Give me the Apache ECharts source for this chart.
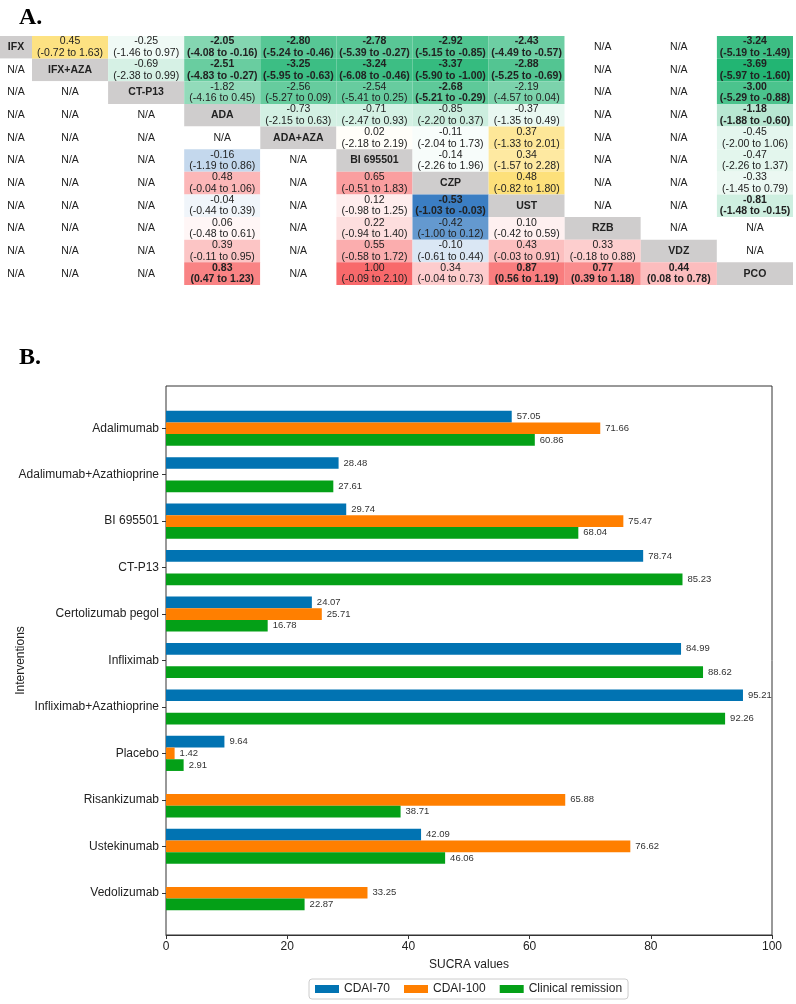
<!DOCTYPE html>
<html><head><meta charset="utf-8">
<script src="https://cdn.jsdelivr.net/npm/echarts/dist/echarts.min.js"></script>
<style>html,body{margin:0;padding:0;background:#fff}#c{width:796px;height:1004px}</style>
</head><body><div id="c"></div><script>
// ---------- Part A: league table ----------
const treatments = ['IFX','IFX+AZA','CT-P13','ADA','ADA+AZA','BI 695501','CZP','UST','RZB','VDZ','PCO'];
const N = null;
const leagueEst = [
  [N, 0.45,-0.25,-2.05,-2.80,-2.78,-2.92,-2.43,N,N,-3.24],
  [N,N,-0.69,-2.51,-3.25,-3.24,-3.37,-2.88,N,N,-3.69],
  [N,N,N,-1.82,-2.56,-2.54,-2.68,-2.19,N,N,-3.00],
  [N,N,N,N,-0.73,-0.71,-0.85,-0.37,N,N,-1.18],
  [N,N,N,N,N,0.02,-0.11,0.37,N,N,-0.45],
  [N,N,N,-0.16,N,N,-0.14,0.34,N,N,-0.47],
  [N,N,N,0.48,N,0.65,N,0.48,N,N,-0.33],
  [N,N,N,-0.04,N,0.12,-0.53,N,N,N,-0.81],
  [N,N,N,0.06,N,0.22,-0.42,0.10,N,N,N],
  [N,N,N,0.39,N,0.55,-0.10,0.43,0.33,N,N],
  [N,N,N,0.83,N,1.00,0.34,0.87,0.77,0.44,N]
];
const leagueLo = [
  [N,-0.72,-1.46,-4.08,-5.24,-5.39,-5.15,-4.49,N,N,-5.19],
  [N,N,-2.38,-4.83,-5.95,-6.08,-5.90,-5.25,N,N,-5.97],
  [N,N,N,-4.16,-5.27,-5.41,-5.21,-4.57,N,N,-5.29],
  [N,N,N,N,-2.15,-2.47,-2.20,-1.35,N,N,-1.88],
  [N,N,N,N,N,-2.18,-2.04,-1.33,N,N,-2.00],
  [N,N,N,-1.19,N,N,-2.26,-1.57,N,N,-2.26],
  [N,N,N,-0.04,N,-0.51,N,-0.82,N,N,-1.45],
  [N,N,N,-0.44,N,-0.98,-1.03,N,N,N,-1.48],
  [N,N,N,-0.48,N,-0.94,-1.00,-0.42,N,N,N],
  [N,N,N,-0.11,N,-0.58,-0.61,-0.03,-0.18,N,N],
  [N,N,N,0.47,N,-0.09,-0.04,0.56,0.39,0.08,N]
];
const leagueHi = [
  [N,1.63,0.97,-0.16,-0.46,-0.27,-0.85,-0.57,N,N,-1.49],
  [N,N,0.99,-0.27,-0.63,-0.46,-1.00,-0.69,N,N,-1.60],
  [N,N,N,0.45,0.09,0.25,-0.29,0.04,N,N,-0.88],
  [N,N,N,N,0.63,0.93,0.37,0.49,N,N,-0.60],
  [N,N,N,N,N,2.19,1.73,2.01,N,N,1.06],
  [N,N,N,0.86,N,N,1.96,2.28,N,N,1.37],
  [N,N,N,1.06,N,1.83,N,1.80,N,N,0.79],
  [N,N,N,0.39,N,1.25,-0.03,N,N,N,-0.15],
  [N,N,N,0.61,N,1.40,0.12,0.59,N,N,N],
  [N,N,N,0.95,N,1.72,0.44,0.91,0.88,N,N],
  [N,N,N,1.23,N,2.10,0.73,1.19,1.18,0.78,N]
];

// ---------- Part B: SUCRA bars ----------
const interventions = ['Adalimumab','Adalimumab+Azathioprine','BI 695501','CT-P13','Certolizumab pegol','Infliximab','Infliximab+Azathioprine','Placebo','Risankizumab','Ustekinumab','Vedolizumab'];
const seriesNames = ['CDAI-70','CDAI-100','Clinical remission'];
const cdai70 = [57.05,28.48,29.74,78.74,24.07,84.99,95.21,9.64,null,42.09,null];
const cdai100 = [71.66,null,75.47,null,25.71,null,null,1.42,65.88,76.62,33.25];
const remission = [60.86,27.61,68.04,85.23,16.78,88.62,92.26,2.91,38.71,46.06,22.87];

// ---------- styling ----------
const FONT = 'Liberation Sans, Arial, sans-serif';
const C_GREEN = '#22b573', C_YELLOW = '#fde07a', C_RED = '#f8696b', C_BLUE = '#3b7ec3', C_DIAG = '#cfcdcd';
function mix(hex, t){
  t = Math.max(0, Math.min(1, t));
  const r = parseInt(hex.slice(1,3),16), g = parseInt(hex.slice(3,5),16), b = parseInt(hex.slice(5,7),16);
  return 'rgb(' + Math.round(255+(r-255)*t) + ',' + Math.round(255+(g-255)*t) + ',' + Math.round(255+(b-255)*t) + ')';
}
let upMin = 0, upMax = 0, lowMin = 0, lowMax = 0;
for (let i = 0; i < 11; i++) for (let j = 0; j < 11; j++) {
  const v = leagueEst[i][j]; if (v == null) continue;
  if (j > i) { upMin = Math.min(upMin, v); upMax = Math.max(upMax, v); }
  else { lowMin = Math.min(lowMin, v); lowMax = Math.max(lowMax, v); }
}
function cellColor(i, j, v){
  if (j > i) return v < 0 ? mix(C_GREEN, v/upMin) : mix(C_YELLOW, v/upMax);
  return v < 0 ? mix(C_BLUE, v/lowMin) : mix(C_RED, v/lowMax);
}
function renderCell(params, api){
  const col = api.value(0), i = api.value(1), j = api.value(2);
  const c = api.coord([col, i]);
  const s = api.size([1, 1]);
  let fill = '#fff', text = 'N/A', weight = 'normal';
  if (i === j) { fill = C_DIAG; text = treatments[i]; weight = 'bold'; }
  else if (leagueEst[i][j] != null) {
    const v = leagueEst[i][j], lo = leagueLo[i][j], hi = leagueHi[i][j];
    fill = cellColor(i, j, v);
    text = v.toFixed(2) + '\n(' + lo.toFixed(2) + ' to ' + hi.toFixed(2) + ')';
    if (lo > 0 || hi < 0) weight = 'bold';
  }
  return {type: 'group', children: [
    {type: 'rect', shape: {x: c[0]-s[0]/2, y: c[1]-s[1]/2, width: s[0], height: s[1]}, style: {fill: fill}},
    {type: 'text', x: c[0], y: c[1], style: {text: text, align: 'center', verticalAlign: 'middle',
      fontSize: 10.5, lineHeight: 11.5, fontWeight: weight, fontFamily: FONT, fill: '#222'}}
  ]};
}
const dataA0 = [], dataA1 = [];
for (let i = 0; i < 11; i++) {
  dataA0.push([0, i, 0]);
  for (let j = 1; j < 11; j++) dataA1.push([j-1, i, j]);
}

const chart = echarts.init(document.getElementById('c'), null, {renderer: 'canvas'});
chart.setOption({
  animation: false,
  title: [
    {text: 'A.', left: 14, top: 1, textStyle: {fontFamily: 'Liberation Serif, serif', fontWeight: 'bold', fontSize: 24, color: '#000'}},
    {text: 'B.', left: 14, top: 341, textStyle: {fontFamily: 'Liberation Serif, serif', fontWeight: 'bold', fontSize: 24, color: '#000'}}
  ],
  legend: {
    data: seriesNames, top: 979, left: 309, icon: 'rect', itemWidth: 24, itemHeight: 8, itemGap: 14,
    borderColor: '#ccc', borderWidth: 1, borderRadius: 3, padding: [4, 6],
    textStyle: {fontFamily: FONT, fontSize: 12, color: '#222'}
  },
  grid: [
    {left: 0, top: 36, width: 32, height: 249, outerBoundsMode: 'none', containLabel: false},
    {left: 32, top: 36, width: 761, height: 249, outerBoundsMode: 'none', containLabel: false},
    {left: 166, top: 386, width: 606, height: 549, show: true, borderColor: '#333', borderWidth: 1, backgroundColor: 'transparent', outerBoundsMode: 'none', containLabel: false},
    {left: 166, top: 405, width: 606, height: 511, outerBoundsMode: 'none', containLabel: false}
  ],
  xAxis: [
    {type: 'category', gridIndex: 0, data: treatments.slice(0, 1), show: false},
    {type: 'category', gridIndex: 1, data: treatments.slice(1), show: false},
    {type: 'value', gridIndex: 2, min: 0, max: 100, interval: 20,
      axisLine: {show: true, lineStyle: {color: '#333'}}, axisTick: {show: true, length: 4, lineStyle: {color: '#333'}},
      splitLine: {show: false}, axisLabel: {fontFamily: FONT, fontSize: 12, color: '#222', margin: 6},
      name: 'SUCRA values', nameLocation: 'middle', nameGap: 24, nameMoveOverlap: false,
      nameTextStyle: {fontFamily: FONT, fontSize: 12, color: '#222'}},
    {type: 'value', gridIndex: 3, min: 0, max: 100, show: false}
  ],
  yAxis: [
    {type: 'category', gridIndex: 0, data: treatments, inverse: true, show: false},
    {type: 'category', gridIndex: 1, data: treatments, inverse: true, show: false},
    {type: 'value', gridIndex: 2, show: false, min: 0, max: 1},
    {type: 'category', gridIndex: 3, data: interventions, inverse: true,
      axisLine: {show: false}, axisTick: {show: true, alignWithLabel: true, length: 4, lineStyle: {color: '#333'}},
      axisLabel: {fontFamily: FONT, fontSize: 12, color: '#222', margin: 7},
      name: 'Interventions', nameLocation: 'middle', nameRotate: 90, nameGap: 139, nameMoveOverlap: false,
      nameTextStyle: {fontFamily: FONT, fontSize: 12, color: '#222'}}
  ],
  series: [
    {type: 'custom', xAxisIndex: 0, yAxisIndex: 0, data: dataA0, renderItem: renderCell, encode: {x: 0, y: 1}, silent: true},
    {type: 'custom', xAxisIndex: 1, yAxisIndex: 1, data: dataA1, renderItem: renderCell, encode: {x: 0, y: 1}, silent: true}
  ].concat([cdai70, cdai100, remission].map((arr, k) => ({
    type: 'bar', name: seriesNames[k], xAxisIndex: 3, yAxisIndex: 3, data: arr,
    barWidth: 11.7, barGap: '0%',
    itemStyle: {color: ['#0173b2', '#ff7f00', '#04a017'][k]},
    label: {show: true, position: 'right', distance: 5, fontFamily: FONT, fontSize: 9.5, color: '#333',
      formatter: p => p.value == null ? '' : Number(p.value).toFixed(2)}
  })))
});
</script></body></html>
